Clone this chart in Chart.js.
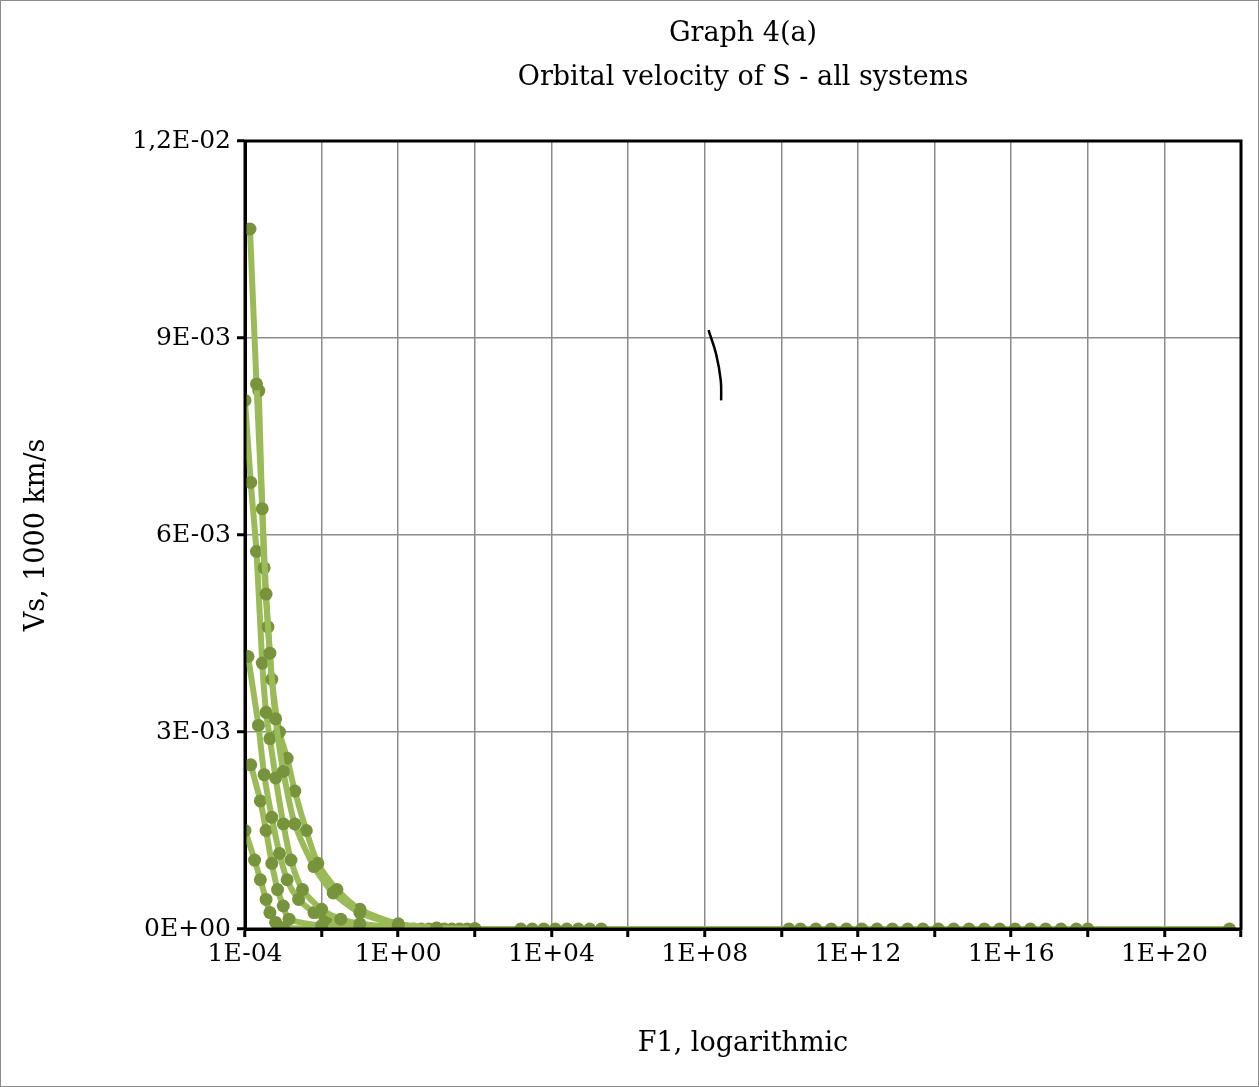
<!DOCTYPE html>
<html>
<head>
<meta charset="utf-8">
<script src="https://cdn.jsdelivr.net/npm/chart.js@4"></script>
<style>
  html, body { margin: 0; padding: 0; background: #fff; }
  #wrap { width: 1257px; height: 1085px; border: 1px solid #8c8c8c; position: relative; }
</style>
</head>
<body>
<div id="wrap"><canvas id="chart" width="1257" height="1085"></canvas></div>
<script>
"use strict";
// each curve: [log10(F1), Vs]
const curve1 = [[-3.87,10.66e-3],[-3.7,8.3e-3],[-3.55,6.4e-3],[-3.45,5.1e-3],[-3.35,4.2e-3],[-3.2,3.2e-3],[-3.0,2.4e-3],[-2.7,1.6e-3],[-2.2,0.95e-3],[-1.7,0.55e-3],[-1.0,0.25e-3],[0,0.06e-3],[1,0.01e-3],[2,0.002e-3]];
const curve2 = [[-3.64,8.2e-3],[-3.5,5.5e-3],[-3.4,4.6e-3],[-3.3,3.8e-3],[-3.1,3.0e-3],[-2.9,2.6e-3],[-2.7,2.1e-3],[-2.4,1.5e-3],[-2.1,1.0e-3],[-1.6,0.6e-3],[-1.0,0.3e-3],[0,0.08e-3],[1,0.015e-3],[2,0.003e-3]];
const curve3 = [[-4.0,8.05e-3],[-3.85,6.8e-3],[-3.7,5.75e-3],[-3.55,4.05e-3],[-3.45,3.3e-3],[-3.35,2.9e-3],[-3.2,2.3e-3],[-3.0,1.6e-3],[-2.8,1.05e-3],[-2.5,0.6e-3],[-2.0,0.3e-3],[-1.5,0.15e-3],[-1.0,0.08e-3],[0,0.02e-3]];
const curve4 = [[-3.92,4.15e-3],[-3.65,3.1e-3],[-3.5,2.35e-3],[-3.3,1.7e-3],[-3.1,1.15e-3],[-2.9,0.75e-3],[-2.6,0.45e-3],[-2.2,0.25e-3],[-1.9,0.15e-3],[-1.0,0.05e-3],[0,0.01e-3]];
const curve5 = [[-3.85,2.5e-3],[-3.6,1.95e-3],[-3.45,1.5e-3],[-3.3,1.0e-3],[-3.15,0.6e-3],[-3.0,0.35e-3],[-2.85,0.15e-3],[-2.0,0.05e-3],[-1,0.01e-3]];
const curve6 = [[-4.0,1.5e-3],[-3.75,1.05e-3],[-3.6,0.75e-3],[-3.45,0.45e-3],[-3.35,0.25e-3],[-3.2,0.1e-3],[-3.0,0.02e-3],[-1,0.002e-3]];
// long tail along zero
const tailExp = [0,0.2,0.4,0.6,0.8,1.0,1.2,1.4,1.6,1.8,2.0,3.2,3.5,3.8,4.1,4.4,4.7,5.0,5.3,10.2,10.5,10.9,11.3,11.7,12.1,12.5,12.9,13.3,13.7,14.1,14.5,14.9,15.3,15.7,16.1,16.5,16.9,17.3,17.7,18.0,21.7];
const tailVal = 0;
// hand-drawn mark on the chart
const markCurve = [[8.1,9.12e-3],[8.3,8.75e-3],[8.42,8.35e-3],[8.43,8.05e-3]];

const titleLines = ["Graph 4(a)", "Orbital velocity of S - all systems"];
const xTickExp = [-4,-2,0,2,4,6,8,10,12,14,16,18,20,22];
const yTicks = [0, 0.003, 0.006, 0.009, 0.012];
const yLabels = ["0E+00", "3E-03", "6E-03", "9E-03", "1,2E-02"];

const toPts = c => c.map(p => ({ x: Math.pow(10, p[0]), y: p[1] }));
const lineColor = "#9bbb59";
const dotColor = "#77933c";
const serif = "'DejaVu Serif', 'Liberation Serif', serif";

const curveSet = (pts) => ({
  data: toPts(pts), showLine: true, borderColor: lineColor, borderWidth: 6,
  pointRadius: 6.5, pointBackgroundColor: dotColor, pointBorderWidth: 0, tension: 0.25
});

const datasets = [curve1, curve2, curve3, curve4, curve5, curve6].map(curveSet);
datasets.push(curveSet(tailExp.map(e => [e, tailVal])));
datasets.push({
  data: toPts(markCurve), showLine: true, borderColor: "#000", borderWidth: 2.5,
  pointRadius: 0, tension: 0.4
});

const frame = {
  id: "frame",
  afterDatasetsDraw(chart) {
    const a = chart.chartArea, ctx = chart.ctx;
    ctx.save();
    ctx.strokeStyle = "#000";
    ctx.lineWidth = 3;
    ctx.strokeRect(a.left, a.top, a.right - a.left, a.bottom - a.top);
    // title, centred over the plot area
    ctx.fillStyle = "#000";
    ctx.font = "27px " + serif;
    ctx.textAlign = "center";
    ctx.textBaseline = "middle";
    const cx = (a.left + a.right) / 2;
    ctx.fillText(titleLines[0], cx, 33);
    ctx.fillText(titleLines[1], cx, 77);
    ctx.restore();
  }
};

new Chart(document.getElementById("chart"), {
  type: "scatter",
  data: { datasets },
  plugins: [frame],
  options: {
    responsive: false,
    animation: false,
    layout: { padding: { left: 16, right: 17, top: 140, bottom: 22 } },
    plugins: { legend: { display: false }, tooltip: { enabled: false } },
    scales: {
      x: {
        type: "logarithmic",
        min: 1e-4, max: 1e22,
        afterBuildTicks: s => { s.ticks = xTickExp.map(e => ({ value: Math.pow(10, e) })); },
        afterFit: s => { s.height = 135; },
        ticks: {
          autoSkip: false, maxRotation: 0, color: "#000", padding: 2,
          font: { family: serif, size: 25 },
          callback: (v, i) => {
            const e = xTickExp[i];
            if ((e + 4) % 4 !== 0 || e === 24) return "";
            return "1E" + (e < 0 ? "-" : "+") + String(Math.abs(e)).padStart(2, "0");
          }
        },
        grid: { color: "#8c8c8c", lineWidth: 1.5, tickColor: "#000", tickLength: 8, tickWidth: 3 },
        border: { color: "#000", width: 3 },
        title: { display: true, text: "F1, logarithmic", color: "#000", font: { family: serif, size: 27 }, padding: { top: 0 } }
      },
      y: {
        min: 0, max: 0.012,
        afterBuildTicks: s => { s.ticks = yTicks.map(v => ({ value: v })); },
        afterFit: s => { s.width = 228; },
        ticks: {
          color: "#000", padding: 6, font: { family: serif, size: 25 },
          callback: (v, i) => yLabels[i]
        },
        grid: { color: "#8c8c8c", lineWidth: 1.5, tickColor: "#000", tickLength: 8, tickWidth: 3 },
        border: { color: "#000", width: 3 },
        title: { display: true, text: "Vs, 1000 km/s", color: "#000", font: { family: serif, size: 27 }, padding: { bottom: 8 } }
      }
    }
  }
});
</script>
</body>
</html>
